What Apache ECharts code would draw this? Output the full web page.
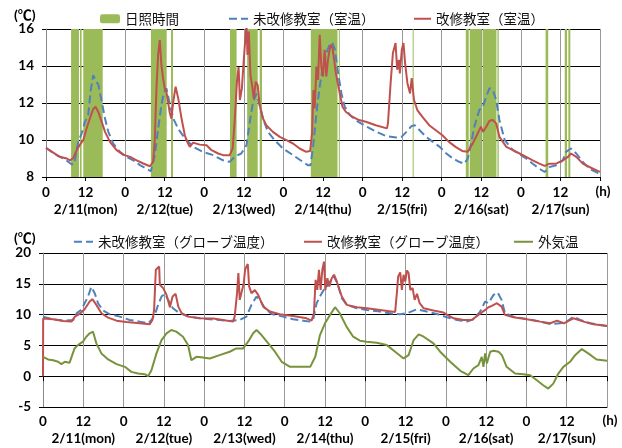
<!DOCTYPE html>
<html><head><meta charset="utf-8">
<script src="https://cdn.jsdelivr.net/npm/echarts@6/dist/echarts.min.js"></script>
<style>html,body{margin:0;padding:0;background:#fff}#c{width:622px;height:448px}</style>
</head><body><div id="c"></div>
<script>
const dayLabels = ['2/11(mon)','2/12(tue)','2/13(wed)','2/14(thu)','2/15(fri)','2/16(sat)','2/17(sun)'];
const sunshineIntervals = [[7.6,10.0],[10.3,10.8],[11.3,17.2],[31.8,36.6],[37.9,38.5],[55.8,57.8],[61.0,64.2],[64.8,65.5],[80.3,88.4],[88.8,89.1],[111.2,111.5],[127.3,128.2],[128.5,132.0],[132.4,136.6],[136.9,137.3],[151.5,152.3],[157.3,158.0],[158.4,159.0]];
const roomUnrenovated = [[0,9.57],[3.2,9.18],[5.3,9.0],[6.8,8.82],[7.8,8.68],[8.6,8.72],[9.3,9.5],[9.8,9.9],[10.8,10.35],[11.8,10.98],[12.8,11.34],[13.5,12.6],[14.3,13.5],[14.8,13.6],[15.9,12.97],[16.9,12.07],[17.9,11.16],[18.9,10.44],[20.4,9.8],[22.4,9.36],[24.4,9.09],[26.5,8.9],[28.5,8.64],[30.5,8.45],[31.8,8.31],[33.0,9.18],[34.0,10.6],[35.0,11.9],[35.8,12.6],[36.5,12.8],[37.6,11.9],[38.6,11.16],[40.1,10.6],[42.1,10.1],[44.6,9.63],[47.6,9.36],[50.7,9.18],[53.7,8.9],[55.7,8.82],[57.2,9.09],[59.2,9.27],[60.8,9.72],[61.8,10.98],[62.8,12.07],[63.8,12.5],[64.8,11.88],[65.8,11.16],[67.3,10.44],[69.3,9.99],[71.9,9.54],[74.9,9.18],[77.9,8.82],[79.4,8.64],[80.2,8.63],[81.0,9.63],[82,11.44],[83,12.89],[84,13.97],[85,14.7],[86,15.15],[86.8,15.27],[87.6,14.9],[88.6,13.6],[89.6,12.5],[90.6,11.8],[92.1,11.35],[94.6,10.99],[97.2,10.72],[100.2,10.44],[103.2,10.21],[106.2,10.14],[107.8,10.17],[109.3,10.44],[110.8,10.75],[111.8,10.8],[113.3,10.53],[115.3,10.17],[117.3,9.9],[119.4,9.63],[121.4,9.27],[123.4,9.0],[125.4,8.81],[126.9,8.72],[127.9,9.0],[128.9,9.81],[129.9,10.72],[131.4,11.62],[132.5,11.8],[133.5,12.34],[134.5,12.8],[135.5,12.7],[136.5,12.16],[137.5,11.08],[139.1,9.99],[141.6,9.45],[143.6,9.23],[145.6,9.0],[147.6,8.72],[149.6,8.45],[151.2,8.27],[152.7,8.54],[154.7,8.63],[156.7,8.9],[157.7,9.36],[159.2,9.54],[160.8,9.27],[162.8,8.81],[164.8,8.45],[167.3,8.22],[168,8.2]];
const roomRenovated = [[0,9.57],[2.2,9.32],[4.2,9.09],[6.3,9.0],[7.3,8.9],[8.3,9.03],[9.3,9.45],[10.3,9.75],[11.3,9.99],[12.3,10.62],[13.3,11.16],[14.3,11.67],[15.0,11.8],[15.9,11.5],[16.9,10.98],[17.9,10.44],[19.4,9.9],[21.4,9.45],[23.4,9.21],[25.5,9.09],[27.5,8.9],[29.5,8.73],[31.5,8.58],[32.5,8.82],[33.0,10.08],[33.5,12.8],[34.0,14.6],[34.5,15.4],[35.0,14.05],[35.5,13.33],[36.0,12.8],[36.5,12.6],[37.0,12.07],[37.5,11.5],[38.0,11.16],[38.6,12.07],[39.3,12.88],[40.1,12.25],[41.1,11.16],[42.1,10.26],[42.6,9.99],[43.6,9.63],[44.6,9.86],[46.6,9.75],[48.7,9.72],[50.2,9.45],[52.2,9.27],[53.7,9.18],[55.7,9.18],[56.6,9.54],[57.2,10.98],[57.9,13.15],[58.4,13.96],[58.8,12.16],[59.4,12.79],[59.8,13.87],[60.3,15.13],[60.8,16.2],[61.1,14.6],[61.5,15.86],[62.0,13.5],[62.5,12.97],[63.0,12.25],[63.6,13.15],[64.2,12.97],[64.8,11.88],[65.8,11.16],[66.8,10.8],[68.8,10.44],[70.9,10.17],[72.9,9.99],[74.9,9.81],[76.9,9.54],[78.9,9.36],[80.1,9.4],[80.7,10.4],[81.1,12.7],[81.5,11.7],[82.0,13.97],[82.5,13.25],[83.0,15.69],[83.5,13.97],[84.0,13.43],[84.5,14.88],[85.0,13.43],[85.5,14.33],[86.0,14.88],[86.4,15.15],[86.9,14.97],[87.9,13.61],[88.9,12.7],[89.9,11.8],[90.9,11.53],[92.9,11.26],[94.9,11.08],[97.0,10.99],[100.0,10.8],[103.4,10.63],[103.7,10.9],[104.5,13.07],[105.2,14.7],[106.0,15.24],[106.5,13.8],[107.0,14.33],[107.3,13.6],[107.9,14.88],[108.4,15.24],[108.9,14.15],[109.6,13.07],[110.4,12.52],[110.9,13.34],[111.6,12.16],[112.6,11.62],[114.1,11.26],[116.2,10.8],[118.2,10.53],[120.2,10.26],[122.2,9.9],[124.2,9.63],[126.2,9.41],[127.9,9.36],[129.4,9.81],[130.9,10.35],[131.9,10.72],[132.5,10.44],[133.5,10.72],[134.5,11.04],[135.5,11.08],[136.5,10.9],[137.5,10.17],[139.6,9.63],[141.6,9.45],[143.6,9.27],[145.6,9.09],[147.6,8.9],[149.6,8.72],[151.2,8.6],[152.7,8.72],[154.7,8.72],[156.7,8.9],[158.3,9.09],[159.2,9.27],[160.8,9.09],[162.8,8.72],[164.8,8.54],[167.3,8.33],[168,8.28]];
const globeUnrenovated = [[0,9.67],[3,9.24],[6,9.02],[9,9.13],[10,10.2],[11.4,10.76],[12.4,11.85],[13.4,12.93],[14.4,14.5],[15.4,13.48],[16.4,11.85],[17.9,10.65],[19.9,10.05],[22.9,9.67],[25.8,9.13],[28.8,8.86],[31.3,8.59],[32.3,9.13],[33.3,9.95],[34.3,11.58],[35.3,12.93],[36.3,13.37],[37.3,12.39],[38.7,11.03],[40.7,10.22],[43.7,9.67],[46.7,9.4],[49.7,9.24],[52.6,9.13],[55.6,8.97],[58.6,9.13],[60.6,9.67],[62.1,11.58],[63.6,12.93],[64.6,12.39],[66.1,11.03],[68.1,10.1],[71.5,9.67],[74.5,9.24],[77.5,9.02],[79.6,8.86],[80.5,9.24],[81.5,11.85],[82.5,12.93],[83.5,13.9],[85.0,14.84],[86.5,16.3],[87.7,15.1],[89.0,12.66],[90.5,11.58],[93.5,11.03],[96.5,10.76],[100.4,10.49],[104.4,10.11],[106.4,10.05],[108.4,10.22],[111.4,10.87],[114.3,10.49],[117.3,10.11],[120.3,9.57],[123.3,9.13],[126.3,8.86],[128.2,9.24],[130.2,10.49],[131.7,12.12],[132.7,11.85],[134.2,13.2],[135.4,13.59],[136.6,12.39],[137.6,10.22],[140.1,9.67],[144.1,9.29],[148.1,8.86],[151.1,8.48],[154.0,8.59],[156.0,8.86],[158.0,9.67],[160.0,9.13],[163.0,8.59],[168,8.15]];
const globeRenovated = [[0,0],[0.05,9.35],[3,9.24],[6,8.97],[8.5,8.86],[9.5,9.67],[10.9,10.1],[12.4,10.87],[13.9,12.12],[14.7,12.5],[15.9,11.58],[17.4,10.22],[19.4,9.51],[21.9,9.02],[24.8,8.8],[28.8,8.59],[31.8,8.42],[32.6,9.13],[33.1,10.76],[33.6,17.28],[34.1,17.55],[34.6,17.8],[34.8,14.84],[35.8,14.3],[36.8,13.2],[37.8,11.2],[38.6,12.93],[39.5,13.37],[40.3,11.3],[41.3,10.22],[43.2,9.67],[46.7,9.4],[50.7,9.35],[53.6,9.13],[56.6,8.86],[57.1,9.67],[57.8,13.48],[58.2,16.74],[58.6,12.39],[59.1,12.12],[59.8,15.1],[60.2,17.28],[60.6,17.8],[61.0,18.2],[61.4,14.57],[62.1,13.48],[63.1,14.0],[64.1,13.2],[65.6,11.3],[67.6,10.49],[70.5,10.05],[74.5,9.78],[78.5,9.4],[80.0,9.02],[80.7,10.22],[81.2,15.65],[81.7,14.0],[82.2,17.28],[82.7,14.0],[83.2,17.28],[83.7,18.6],[84.1,14.0],[84.7,15.9],[85.3,14.57],[86.0,15.9],[86.7,16.47],[87.5,15.38],[89.0,12.93],[90.5,11.58],[93.5,11.2],[96.5,11.03],[100.4,10.76],[104.9,10.43],[105.4,13.48],[105.8,16.2],[106.4,16.85],[106.9,14.0],[107.4,16.47],[107.9,15.38],[108.4,17.17],[108.9,16.74],[109.4,14.0],[110.1,14.3],[110.7,12.39],[111.4,13.37],[112.2,11.85],[113.4,11.03],[116.3,10.65],[119.3,10.33],[122.3,9.4],[125.3,9.13],[127.7,9.13],[129.7,9.95],[131.7,10.76],[132.7,11.2],[133.7,11.41],[135.2,11.85],[136.6,11.3],[137.6,9.95],[140.1,9.57],[144.1,9.24],[148.1,8.86],[151.1,8.59],[153.1,9.02],[155.1,8.59],[158.0,9.4],[161.0,8.86],[164.0,8.42],[168,8.15]];
const outdoorTemp = [[0,3.15],[1.5,2.72],[3,2.6],[4.5,2.34],[5.5,1.96],[6.5,2.34],[7.9,2.17],[9.4,4.51],[10.4,5.05],[11.9,5.6],[12.9,6.41],[13.9,6.96],[14.9,7.23],[15.9,5.33],[17.4,3.7],[19.4,2.72],[21.9,1.96],[24.4,1.52],[26.3,0.7],[28.3,0.43],[30.3,0.33],[31.3,0],[32.3,0.98],[33.8,3.7],[35.3,5.87],[36.8,6.96],[38.2,7.5],[39.7,7.23],[41.7,6.41],[43.2,5.05],[44.2,2.6],[45.7,3.15],[47.7,3.04],[49.7,2.88],[52.6,3.42],[55.6,3.97],[57.6,4.51],[59.6,4.51],[61.1,5.6],[62.6,6.96],[63.6,7.5],[65.1,6.68],[67.1,5.33],[69.1,3.97],[71.1,2.34],[73.6,1.52],[76.1,1.52],[79.6,1.52],[81.1,3.15],[82.5,6.68],[84.0,8.59],[85.5,9.95],[87.0,11.2],[88.4,10.22],[90.4,8.04],[92.4,6.41],[94.4,5.76],[96.4,5.6],[99.4,5.43],[102.4,5.05],[104.9,3.97],[107.4,2.88],[108.9,3.42],[110.4,5.87],[111.9,6.79],[113.4,6.41],[116.3,5.33],[118.3,3.97],[121.3,2.34],[124.3,0.87],[126.7,0.16],[128.2,1.25],[129.7,1.79],[130.7,3.15],[131.2,1.52],[131.7,3.7],[132.2,2.07],[133.2,3.97],[134.2,4.13],[135.7,3.97],[136.7,3.42],[138.1,1.52],[140.6,0.43],[143.1,0.33],[145.1,0.16],[147.1,-0.65],[149.0,-1.47],[150.5,-2.01],[152.0,-1.2],[153.5,0.43],[155.0,1.52],[157.0,2.34],[158.5,3.42],[160.5,4.4],[162.4,3.7],[164.9,2.72],[168,2.5]];

const NUM = 'Lato, "Noto Sans CJK JP", sans-serif';
const JP = '"Noto Sans CJK JP", sans-serif';
const GREEN = '#9BBB59', BLUE = '#4F81BD', RED = '#C0504D', OLIVE = '#77933C';

function xLabel(v){
  if (v === 168) return '{h|(h)}';
  if (v % 24 === 0) return '{n|0}';
  return '{n|12}\n{d|' + dayLabels[Math.floor(v/24)] + '}';
}
function xAxisCfg(gi, dLH, margin){
  return {
    type:'value', gridIndex:gi, min:0, max:168, interval:12,
    axisLine:{show:true, onZero:false, lineStyle:{color:'#000', width:1}},
    axisTick:{show:gi===0, length:4, lineStyle:{color:'#000'}},
    splitLine:{show:true, lineStyle:{color:'#999', width:1}},
    axisLabel:{margin:margin, showMaxLabel:true, showMinLabel:true, formatter:xLabel, color:'#000',
      rich:{
        n:{fontFamily:NUM, fontWeight:'bold', fontSize:13.5, lineHeight:16, color:'#000'},
        d:{fontFamily:NUM, fontWeight:'bold', fontSize:13.5, lineHeight:dLH, color:'#000'},
        h:{fontFamily:NUM, fontWeight:'bold', fontSize:13.5, lineHeight:14, color:'#000', padding:[0,0,0,6]}
      }}
  };
}
function yAxisCfg(gi, min, max, interval){
  return {
    type:'value', gridIndex:gi, min:min, max:max, interval:interval,
    axisLine:{show:true, lineStyle:{color:'#888'}},
    axisTick:{show:true, length:4, lineStyle:{color:'#000'}},
    splitLine:{show:true, lineStyle:{color:'#000', width:1}},
    axisLabel:{margin:12, fontFamily:NUM, fontWeight:'bold', fontSize:13.5, color:'#000'}
  };
}
function legendCfg(name, left, top, w){
  return {data:[name], left:left, top:top, padding:0, itemWidth:w, itemHeight:9,
    itemStyle:{opacity:0},
    textStyle:{fontFamily:JP, fontSize:13.5, color:'#111'}, selectedMode:false};
}

const chart = echarts.init(document.getElementById('c'), null, {renderer:'canvas'});
const dashed = {type:[4,3]};
chart.setOption({
  animation:false,
  backgroundColor:'#fff',
  grid:[
    {left:46, top:29, width:554, height:148},
    {left:43, top:253, width:564, height:154}
  ],
  xAxis:[
    xAxisCfg(0, 18, 7.5),
    xAxisCfg(1, 17, 7),
    {type:'value', gridIndex:1, min:0, max:168, interval:12, position:'bottom',
      axisLine:{show:true, onZero:true, onZeroAxisIndex:1, lineStyle:{color:'#000'}},
      axisTick:{show:true, length:5, lineStyle:{color:'#000'}},
      axisLabel:{show:false}, splitLine:{show:false}}
  ],
  yAxis:[ yAxisCfg(0, 8, 16, 2), yAxisCfg(1, -5, 20, 5) ],
  legend:[
    {data:['日照時間'], left:100, top:12, padding:0, itemWidth:20, itemHeight:9,
      textStyle:{fontFamily:JP, fontSize:13.5, color:'#111'}, selectedMode:false},
    legendCfg('未改修教室（室温）', 228, 12, 19),
    legendCfg('改修教室（室温）', 413, 12, 17),
    legendCfg('未改修教室（グローブ温度）', 73, 235, 19),
    legendCfg('改修教室（グローブ温度）', 303, 235, 18),
    legendCfg('外気温', 513, 235, 19)
  ],
  graphic:[
    {type:'text', left:14, top:8, style:{text:'(℃)', font:'bold 14px ' + NUM, fill:'#000'}},
    {type:'text', left:14, top:231, style:{text:'(℃)', font:'bold 14px ' + NUM, fill:'#000'}}
  ],
  series:[
    {name:'日照時間', type:'custom', xAxisIndex:0, yAxisIndex:0, data:sunshineIntervals,
      encode:{x:[0,1]}, itemStyle:{color:GREEN}, z:1,
      renderItem:function(params, api){
        const a = api.coord([api.value(0), 16]);
        const b = api.coord([api.value(1), 8]);
        return {type:'rect', shape:{x:a[0], y:a[1], width:b[0]-a[0], height:b[1]-a[1]}, style:{fill:GREEN}};
      }},
    {name:'未改修教室（室温）', type:'line', xAxisIndex:0, yAxisIndex:0, data:roomUnrenovated,
      showSymbol:false, symbol:'none', lineStyle:{color:BLUE, width:2, type:'dashed', dashOffset:0}, itemStyle:{color:BLUE}, z:3},
    {name:'改修教室（室温）', type:'line', xAxisIndex:0, yAxisIndex:0, data:roomRenovated,
      showSymbol:false, symbol:'none', lineStyle:{color:RED, width:2}, itemStyle:{color:RED}, z:4},
    {name:'未改修教室（グローブ温度）', type:'line', xAxisIndex:1, yAxisIndex:1, data:globeUnrenovated,
      showSymbol:false, symbol:'none', lineStyle:{color:BLUE, width:2, type:'dashed'}, itemStyle:{color:BLUE}, z:3},
    {name:'改修教室（グローブ温度）', type:'line', xAxisIndex:1, yAxisIndex:1, data:globeRenovated,
      showSymbol:false, symbol:'none', lineStyle:{color:RED, width:2}, itemStyle:{color:RED}, z:4},
    {name:'外気温', type:'line', xAxisIndex:1, yAxisIndex:1, data:outdoorTemp,
      showSymbol:false, symbol:'none', lineStyle:{color:OLIVE, width:2}, itemStyle:{color:OLIVE}, z:4}
  ]
});
</script></body></html>
